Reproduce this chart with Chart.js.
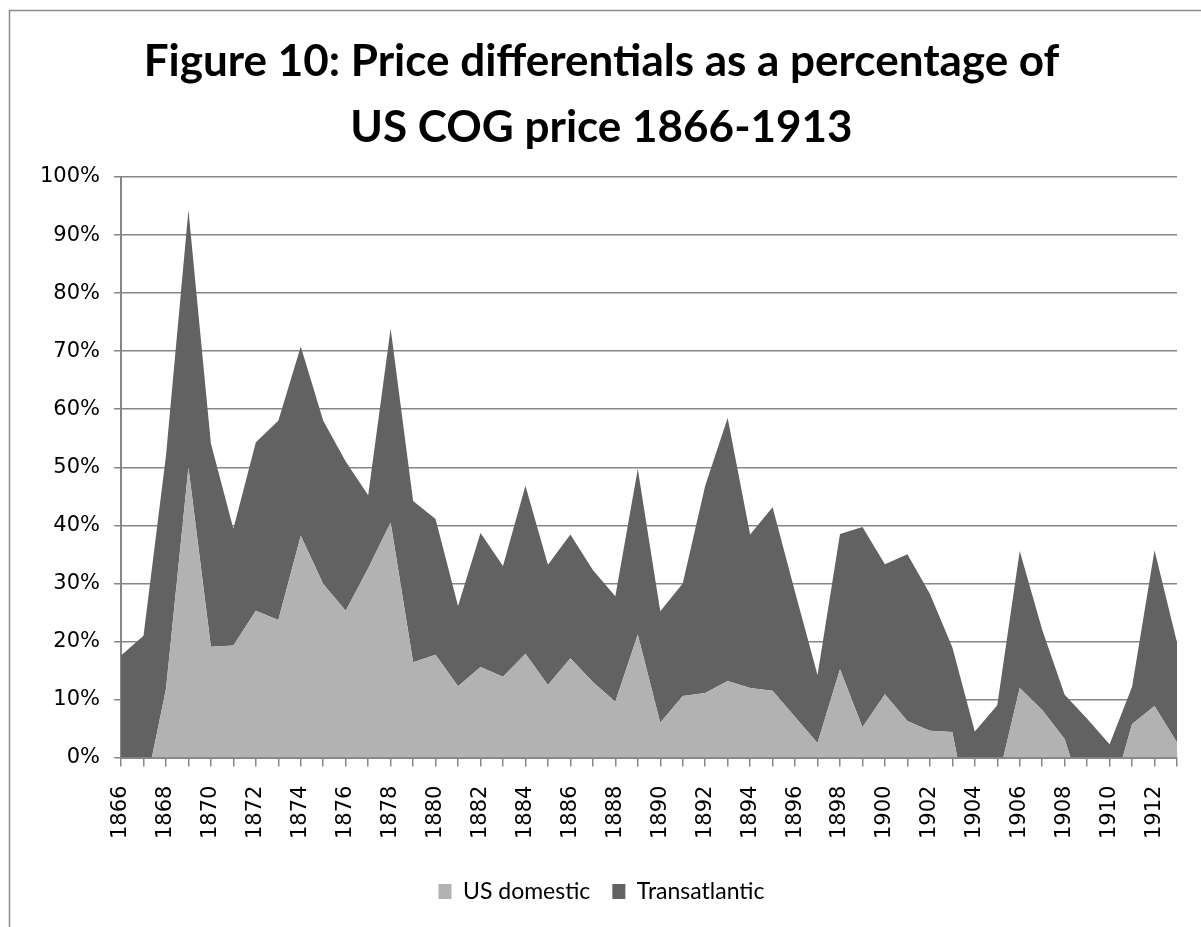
<!DOCTYPE html>
<html>
<head>
<meta charset="utf-8">
<script src="https://cdn.jsdelivr.net/npm/chart.js@4"></script>
<style>
  html, body { margin: 0; padding: 0; background: #fff; }
  #wrap { width: 1201px; height: 927px; }
</style>
</head>
<body>
<div id="wrap"><canvas id="chart" width="1201" height="927"></canvas></div>
<script>
// years on the category axis
const years = ['1866','1867','1868','1869','1870','1871','1872','1873','1874','1875',
  '1876','1877','1878','1879','1880','1881','1882','1883','1884','1885',
  '1886','1887','1888','1889','1890','1891','1892','1893','1894','1895',
  '1896','1897','1898','1899','1900','1901','1902','1903','1904','1905',
  '1906','1907','1908','1909','1910','1911','1912','1913'];

// price differentials, % of US COG price
const usDomestic = [-4, -7, 11.8, 50.0, 19.1, 19.3, 25.3, 23.7, 38.2, 29.9,
  25.3, 32.6, 40.5, 16.4, 17.7, 12.3, 15.6, 13.9, 17.9, 12.5,
  17.1, 13.0, 9.6, 21.2, 6.0, 10.6, 11.1, 13.2, 12.0, 11.5,
  7.0, 2.5, 15.2, 5.2, 10.9, 6.3, 4.6, 4.4, -15, -4.4,
  12.0, 8.2, 3.2, -9, -8, 5.8, 8.9, 2.6];

const transatlantic = [21.6, 28.0, 40.2, 44.3, 35.0, 20.1, 29.0, 34.3, 32.6, 28.1,
  25.7, 12.6, 33.4, 27.8, 23.4, 13.8, 23.1, 19.1, 28.9, 20.7,
  21.3, 19.3, 18.2, 28.5, 19.2, 19.4, 35.7, 45.3, 26.4, 31.6,
  21.5, 11.7, 23.3, 34.5, 22.4, 28.7, 23.6, 14.6, 19.5, 13.4,
  23.6, 13.8, 7.6, 15.7, 10.3, 6.4, 26.8, 17.2];

const yTicks = [0, 10, 20, 30, 40, 50, 60, 70, 80, 90, 100];

const LIGHT = '#b2b2b2';
const DARK = '#626262';
const AXIS = '#868686';

// Excel-style chart frame (only left and top edges are in view)
const frame = {
  id: 'frame',
  beforeDraw(chart) {
    const c = chart.ctx;
    c.save();
    c.fillStyle = '#fff';
    c.fillRect(0, 0, chart.width, chart.height);
    c.strokeStyle = '#8a8a8a';
    c.lineWidth = 1.5;
    c.beginPath();
    c.moveTo(9.5, chart.height + 2);
    c.lineTo(9.5, 10.5);
    c.lineTo(chart.width + 2, 10.5);
    c.stroke();
    c.restore();
  }
};

new Chart(document.getElementById('chart'), {
  type: 'line',
  data: {
    labels: years,
    datasets: [
      {
        label: 'US domestic',
        data: usDomestic,
        backgroundColor: LIGHT,
        borderColor: LIGHT,
        borderWidth: 0,
        pointRadius: 0,
        fill: 'origin'
      },
      {
        label: 'Transatlantic',
        data: transatlantic,
        backgroundColor: DARK,
        borderColor: DARK,
        borderWidth: 0,
        pointRadius: 0,
        fill: '-1'
      }
    ]
  },
  options: {
    responsive: false,
    animation: false,
    layout: { padding: { left: 26, right: 24, top: 10, bottom: 14 } },
    plugins: {
      title: {
        display: true,
        text: ['Figure 10: Price differentials as a percentage of', 'US COG price 1866-1913'],
        color: '#000',
        font: { family: 'Lato', weight: 'bold', size: 44, lineHeight: 1.5 },
        padding: { top: 19, bottom: 16 }
      },
      legend: {
        position: 'bottom',
        labels: {
          color: '#000',
          font: { family: 'Lato', size: 23 },
          boxWidth: 13,
          boxHeight: 15,
          padding: 22
        }
      },
      tooltip: { enabled: false }
    },
    scales: {
      x: {
        offset: false,
        afterFit: s => { s.paddingLeft = 0; s.paddingRight = 0; },
        grid: { drawOnChartArea: false, color: AXIS, lineWidth: 1.5, tickLength: 9 },
        border: { color: AXIS, width: 2 },
        ticks: {
          autoSkip: false,
          maxRotation: 90,
          minRotation: 90,
          padding: 19,
          color: '#000',
          font: { family: 'DejaVu Sans', size: 21 },
          callback: (v, i) => (i % 2 === 0 ? years[i] : '')
        }
      },
      y: {
        stacked: 'single',
        min: 0,
        max: 100,
        afterBuildTicks: s => { s.ticks = yTicks.map(v => ({ value: v })); },
        grid: { color: AXIS, lineWidth: 1.5, tickLength: 7 },
        border: { color: AXIS, width: 2 },
        ticks: {
          padding: 14,
          color: '#000',
          font: { family: 'DejaVu Sans', size: 21 },
          callback: v => v + '%'
        }
      }
    }
  },
  plugins: [frame]
});
</script>
</body>
</html>
